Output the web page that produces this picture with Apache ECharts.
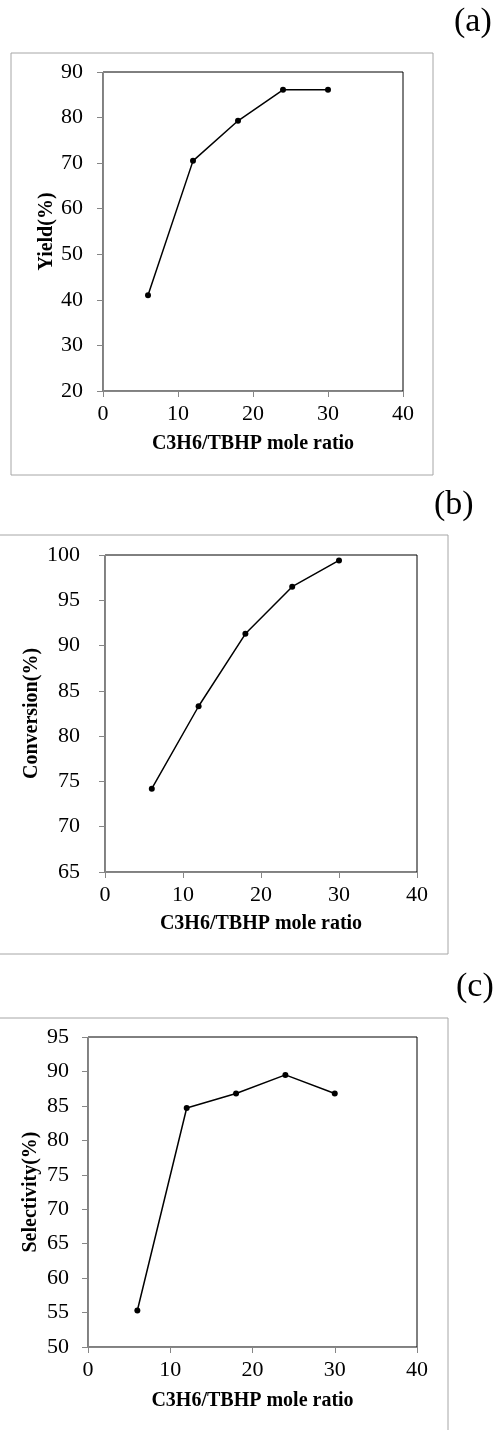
<!DOCTYPE html>
<html>
<head>
<meta charset="utf-8">
<script src="https://cdn.jsdelivr.net/npm/echarts@6/dist/echarts.min.js"></script>
<style>
  html, body { margin: 0; padding: 0; background: #fff; }
  #main { width: 497px; height: 1430px; }
</style>
</head>
<body>
<div id="main"></div>
<script>
// 横坐标: C3H6/TBHP 摩尔比
var ratio = [6, 12, 18, 24, 30];
// (a) 收率
var yieldVals = [41.0, 70.5, 79.3, 86.1, 86.1];
// (b) 转化率
var conversionVals = [74.2, 83.3, 91.3, 96.5, 99.4];
// (c) 选择性
var selectivityVals = [55.3, 84.7, 86.8, 89.5, 86.8];

var panelTags = ['(a)', '(b)', '(c)'];
var yNames = ['Yield(%)', 'Conversion(%)', 'Selectivity(%)'];
var xName = 'C3H6/TBHP mole ratio';

var serif = '"Liberation Serif", "Times New Roman", serif';
var axisGray = '#868686';

function pairs(ys) {
    var out = [];
    for (var i = 0; i < ratio.length; i++) {
        out.push([ratio[i], ys[i]]);
    }
    return out;
}

function xAxisFor(idx, gap) {
    return {
        gridIndex: idx,
        type: 'value',
        min: 0, max: 40, interval: 10,
        name: xName,
        nameLocation: 'middle',
        nameGap: gap,
        nameMoveOverlap: false,
        nameTextStyle: { fontFamily: serif, fontWeight: 'bold', fontSize: 20, color: '#000' },
        axisLine: { onZero: false, lineStyle: { color: axisGray, width: 1 } },
        axisTick: { inside: false, length: 6, lineStyle: { color: axisGray } },
        axisLabel: { fontFamily: serif, fontSize: 22, color: '#000', margin: 12 },
        splitLine: { show: false }
    };
}

function yAxisFor(idx, min, max, step, gap, margin) {
    return {
        gridIndex: idx,
        type: 'value',
        min: min, max: max, interval: step,
        name: yNames[idx],
        nameLocation: 'middle',
        nameGap: gap,
        nameRotate: 90,
        nameMoveOverlap: false,
        nameTextStyle: { fontFamily: serif, fontWeight: 'bold', fontSize: 20, color: '#000' },
        axisLine: { show: true, onZero: false, lineStyle: { color: axisGray, width: 1 } },
        axisTick: { show: true, inside: false, length: 6, lineStyle: { color: axisGray } },
        axisLabel: { fontFamily: serif, fontSize: 22, color: '#000', margin: margin },
        splitLine: { show: false }
    };
}

function seriesFor(idx, ys) {
    return {
        type: 'line',
        xAxisIndex: idx,
        yAxisIndex: idx,
        data: pairs(ys),
        symbol: 'circle',
        symbolSize: 6,
        itemStyle: { color: '#000' },
        lineStyle: { color: '#000', width: 1.5 },
        animation: false
    };
}

var tagStyle = { fontFamily: serif, fontWeight: 'normal', fontSize: 34, color: '#000' };

var myChart = echarts.init(document.getElementById('main'), null, { renderer: 'canvas' });

var option = {
    backgroundColor: '#fff',
    animation: false,
    title: [
        { text: panelTags[0], left: 454, top: 5, padding: 0, textStyle: tagStyle },
        { text: panelTags[1], left: 434, top: 488, padding: 0, textStyle: tagStyle },
        { text: panelTags[2], left: 456, top: 970, padding: 0, textStyle: tagStyle }
    ],
    graphic: [
        // 外框
        { type: 'rect', shape: { x: 11, y: 53, width: 422, height: 422 }, style: { fill: 'none', stroke: '#a6a6a6', lineWidth: 1 }, z: -1 },
        { type: 'rect', shape: { x: -2, y: 535, width: 450, height: 419 }, style: { fill: 'none', stroke: '#a6a6a6', lineWidth: 1 }, z: -1 },
        { type: 'rect', shape: { x: -2, y: 1018, width: 450, height: 500 }, style: { fill: 'none', stroke: '#a6a6a6', lineWidth: 1 }, z: -1 }
    ],
    grid: [
        { left: 103, top: 72, width: 300, height: 319, show: true, borderColor: '#000', borderWidth: 1, backgroundColor: 'transparent' },
        { left: 105, top: 555, width: 312, height: 317, show: true, borderColor: '#000', borderWidth: 1, backgroundColor: 'transparent' },
        { left: 88, top: 1037, width: 329, height: 310, show: true, borderColor: '#000', borderWidth: 1, backgroundColor: 'transparent' }
    ],
    xAxis: [
        xAxisFor(0, 43),
        xAxisFor(1, 42),
        xAxisFor(2, 44)
    ],
    yAxis: [
        yAxisFor(0, 20, 90, 10, 46, 20),
        yAxisFor(1, 65, 100, 5, 63, 25),
        yAxisFor(2, 50, 95, 5, 47, 19)
    ],
    series: [
        seriesFor(0, yieldVals),
        seriesFor(1, conversionVals),
        seriesFor(2, selectivityVals)
    ]
};

myChart.setOption(option);
</script>
</body>
</html>
